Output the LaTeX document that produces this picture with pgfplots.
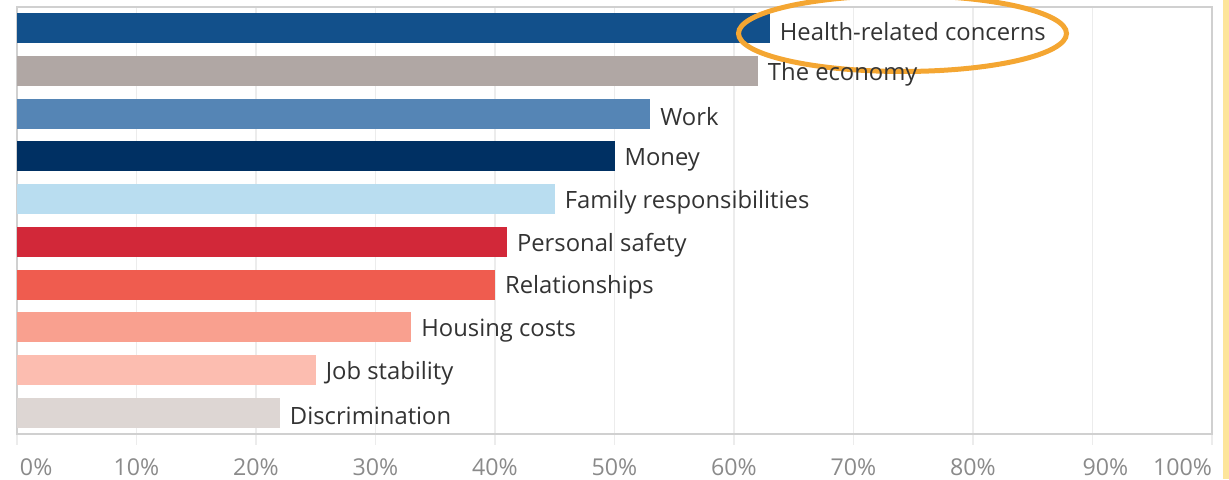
\documentclass[border=0pt]{standalone}
\usepackage{pgfplots}
\pgfplotsset{compat=1.18}
\usepackage{fontspec}
\setmainfont{Open Sans}
\definecolor{cHealth}{HTML}{12508B}
\definecolor{cEcon}{HTML}{B0A7A4}
\definecolor{cWork}{HTML}{5585B5}
\definecolor{cMoney}{HTML}{003063}
\definecolor{cFamily}{HTML}{B9DDF0}
\definecolor{cSafety}{HTML}{D22839}
\definecolor{cRel}{HTML}{EF5C4F}
\definecolor{cHousing}{HTML}{F9A08F}
\definecolor{cJob}{HTML}{FCBDB0}
\definecolor{cDisc}{HTML}{DDD6D3}
\definecolor{gridc}{HTML}{ECECEC}
\definecolor{framec}{HTML}{D0D0D0}
\definecolor{tickc}{HTML}{8A8A8A}
\definecolor{labc}{HTML}{333333}
\definecolor{orangec}{HTML}{F4A632}
\definecolor{yellowc}{HTML}{FDE59A}
\begin{document}
\begin{tikzpicture}
\useasboundingbox (-8.5pt,-22.5pt) rectangle (606pt,217pt);
\begin{axis}[
  at={(0,0)}, anchor=south west,
  scale only axis, width=597.5pt, height=213.5pt,
  xbar, bar width=15pt,
  every axis plot/.append style={bar shift=0pt},
  xmin=0, xmax=100, ymin=-0.5, ymax=9.5, y dir=reverse,
  ytick=\empty,
  xtick={0,10,...,100},
  xticklabels={\makebox[0pt][l]{\hspace{1.5pt}0\%},10\%,20\%,30\%,40\%,50\%,60\%,70\%,80\%,\hspace{13pt}90\%,\makebox[0pt][r]{100\%}},
  xticklabel style={font=\fontsize{11.6}{13}\selectfont, text=tickc, yshift=-3.5pt},
  tick pos=bottom, tick align=outside, major tick length=5.5pt,
  tick style={gridc, line width=0.6pt},
  xmajorgrids, major grid style={gridc, line width=0.6pt},
  axis line style={framec, line width=0.8pt},
  clip=false,
  nodes near coords align={horizontal},
  every node near coord/.append style={font=\fontsize{11.9}{13}\selectfont, text=labc, anchor=west, xshift=1.5pt, yshift=-1.5pt},
]
\addplot[fill=cHealth, draw=none, nodes near coords={Health-related concerns}] coordinates {(63,0)};
\addplot[fill=cEcon, draw=none, nodes near coords={The economy}] coordinates {(62,1)};
\addplot[fill=cWork, draw=none, nodes near coords={Work}] coordinates {(53,2)};
\addplot[fill=cMoney, draw=none, nodes near coords={Money}] coordinates {(50,3)};
\addplot[fill=cFamily, draw=none, nodes near coords={Family responsibilities}] coordinates {(45,4)};
\addplot[fill=cSafety, draw=none, nodes near coords={Personal safety}] coordinates {(41,5)};
\addplot[fill=cRel, draw=none, nodes near coords={Relationships}] coordinates {(40,6)};
\addplot[fill=cHousing, draw=none, nodes near coords={Housing costs}] coordinates {(33,7)};
\addplot[fill=cJob, draw=none, nodes near coords={Job stability}] coordinates {(25,8)};
\addplot[fill=cDisc, draw=none, nodes near coords={Discrimination}] coordinates {(22,9)};
\draw[orangec, line width=2.5pt] (axis cs:74.1,0.12) ellipse [x radius=82pt, y radius=19pt];
\end{axis}
\fill[yellowc] (603pt,-22.5pt) rectangle (606pt,217pt);
\end{tikzpicture}
\end{document}
